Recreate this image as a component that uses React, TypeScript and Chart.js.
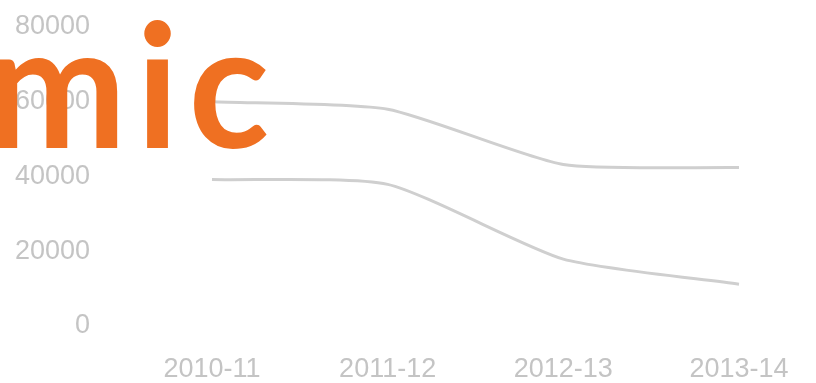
import React, { useEffect, useRef } from "react";
import { Chart, registerables } from "chart.js";

Chart.register(...registerables);

const years = ["2010-11", "2011-12", "2012-13", "2013-14"];
const upperSeries = [60000, 58000, 43200, 42400];
const lowerSeries = [39200, 37900, 17900, 11200];
const yTicks = [0, 20000, 40000, 60000, 80000];
const bannerText = "mic";

const GREY_TEXT = "#c4c4c4";
const GREY_LINE = "#cfcfcf";
const ORANGE = "#ef7022";

// Heading fragment: x-height of 90px, "m" about 122px wide, ink from x=-4 to x=267, baseline at 148
const bannerPlugin = {
  id: "banner",
  afterDraw(chart: Chart) {
    const ctx = chart.ctx as any;
    ctx.save();
    ctx.font = "700 100px Lato";
    const xh = ctx.measureText("x").actualBoundingBoxAscent || 50;
    const size = (100 * 90) / xh;
    ctx.font = `700 ${size}px Lato`;
    const mm = ctx.measureText("m");
    const mW = mm.actualBoundingBoxLeft + mm.actualBoundingBoxRight;
    const sx = 122 / mW;
    const all = ctx.measureText(bannerText);
    const allW = all.actualBoundingBoxLeft + all.actualBoundingBoxRight;
    const spacing = (271 / sx - allW) / 2;
    ctx.letterSpacing = `${spacing}px`;
    ctx.fillStyle = ORANGE;
    ctx.textBaseline = "alphabetic";
    ctx.textAlign = "left";
    ctx.translate(-4, 148);
    ctx.scale(sx, 1);
    ctx.fillText(bannerText, all.actualBoundingBoxLeft, 0);
    ctx.restore();
  },
};

export default function App() {
  const ref = useRef<HTMLCanvasElement | null>(null);

  useEffect(() => {
    if (!ref.current) return;
    const chart = new Chart(ref.current, {
      type: "line",
      data: {
        labels: years,
        datasets: [
          {
            data: upperSeries,
            borderColor: GREY_LINE,
            borderWidth: 3,
            pointRadius: 0,
            tension: 0.2,
            fill: false,
          },
          {
            data: lowerSeries,
            borderColor: GREY_LINE,
            borderWidth: 3,
            pointRadius: 0,
            tension: 0.2,
            fill: false,
          },
        ],
      },
      options: {
        animation: false,
        responsive: false,
        maintainAspectRatio: false,
        layout: { padding: { left: 0, right: 77, top: 27, bottom: 0 } },
        plugins: { legend: { display: false }, tooltip: { enabled: false } },
        scales: {
          x: {
            type: "category",
            offset: false,
            grid: { display: false, drawTicks: false },
            border: { display: false },
            afterFit(scale: any) {
              scale.height = 57;
            },
            ticks: {
              color: GREY_TEXT,
              font: { family: "Liberation Sans", size: 27 },
              padding: 27,
              maxRotation: 0,
              autoSkip: false,
            },
          },
          y: {
            min: 0,
            max: 80000,
            afterBuildTicks(scale: any) {
              scale.ticks = yTicks.map((v) => ({ value: v }));
            },
            afterFit(scale: any) {
              scale.width = 212;
              scale.paddingTop = 0;
              scale.paddingBottom = 0;
            },
            grid: { display: false, drawTicks: false },
            border: { display: false },
            ticks: {
              color: GREY_TEXT,
              font: { family: "Liberation Sans", size: 27 },
              padding: 122,
              callback: (v: any) => String(v),
            },
          },
        },
      },
      plugins: [bannerPlugin],
    });
    return () => chart.destroy();
  }, []);

  return (
    <div style={{ position: "fixed", left: 0, top: 0, width: 816, height: 383, background: "#fff" }}>
      <canvas ref={ref} width={816} height={383} style={{ display: "block" }} />
    </div>
  );
}
